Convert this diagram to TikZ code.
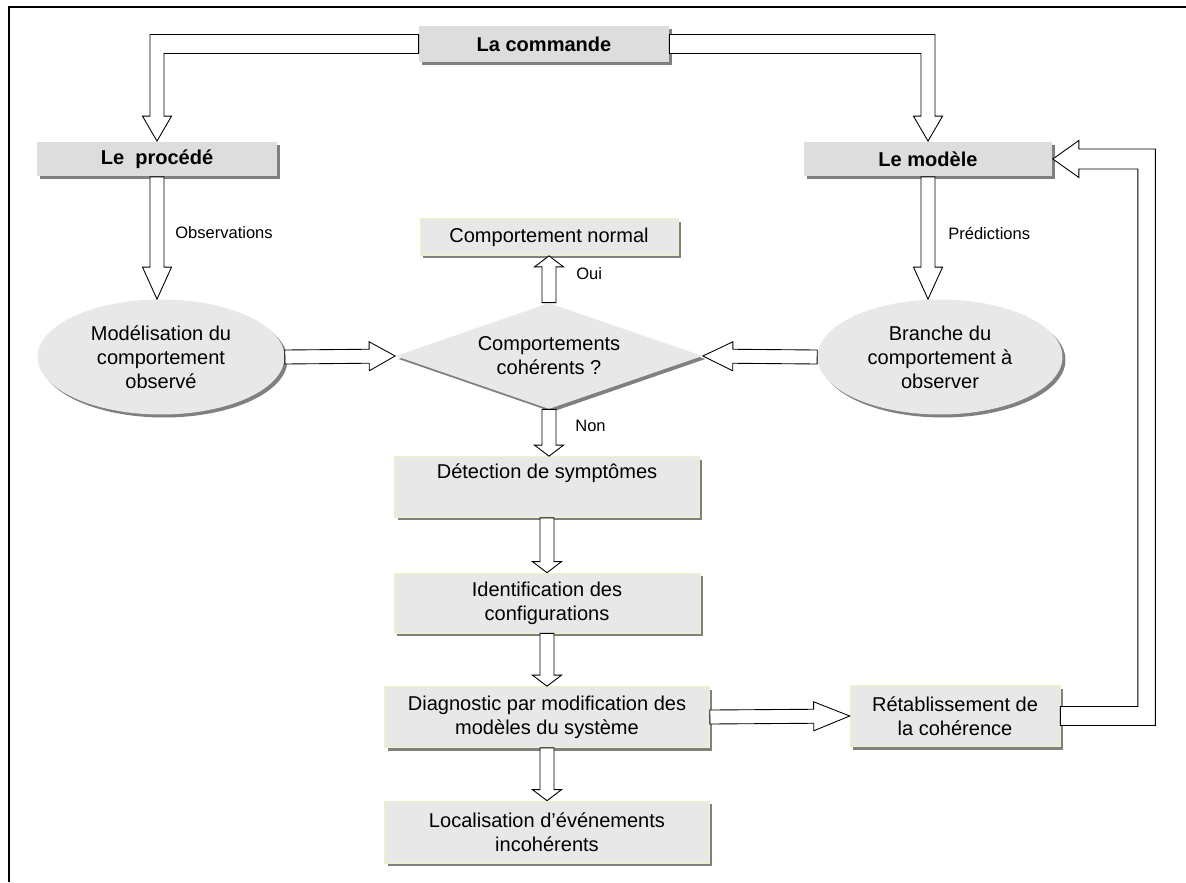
\documentclass[tikz,border=0pt]{standalone}
\usepackage{fontspec}
\setmainfont{Liberation Sans}
\usetikzlibrary{calc,shapes.geometric,shadows}

\definecolor{boxgray}{HTML}{E8E8E8}
\definecolor{headgray}{HTML}{DDDDDD}
\definecolor{paleedge}{HTML}{F2F2C0}
\definecolor{shadegray}{HTML}{808080}

\newcommand{\shaftw}{0.14cm}
\newcommand{\headw}{0.29cm}
% straight block arrow: [head length]{from}{to}
\newcommand{\flowarrow}[3][0.5cm]{%
  \path (#2) coordinate (fa-s) (#3) coordinate (fa-e);
  \path ($(fa-e)!#1!(fa-s)$) coordinate (fa-b);
  \draw[arrowbody] ($(fa-s)!\shaftw!90:(fa-e)$) -- ($(fa-b)!\shaftw!-90:(fa-s)$)
    -- ($(fa-b)!\headw!-90:(fa-s)$) -- (fa-e) -- ($(fa-b)!\headw!90:(fa-s)$)
    -- ($(fa-b)!\shaftw!90:(fa-s)$) -- ($(fa-s)!\shaftw!-90:(fa-e)$) -- cycle;
}

\tikzset{
  shade box/.style={drop shadow={shadow xshift=0.06cm,shadow yshift=-0.06cm,fill=shadegray,opacity=1}},
  headbox/.style={rectangle,fill=headgray,shade box,inner sep=0pt,font=\fontsize{11.4}{13.6}\selectfont\bfseries},
  stepbox/.style={rectangle,fill=boxgray,draw=paleedge,shade box,inner sep=0pt,align=center},
  ovalbox/.style={ellipse,fill=boxgray,shade box,inner sep=0pt,align=center},
  testbox/.style={diamond,aspect=2.9,fill=boxgray,shade box,inner sep=0pt,align=center},
  arrowbody/.style={draw=black,fill=white,line width=0.5pt,line join=miter},
  tag/.style={font=\fontsize{9.4}{11}\selectfont,anchor=west,inner sep=0pt}
}

\begin{document}
\begin{tikzpicture}[x=0.02cm,y=-0.02cm,font=\fontsize{11.4}{13.6}\selectfont]
\useasboundingbox (0,0) rectangle (1186,882);
\draw[line width=0.9pt] (9,882) -- (9,7) -- (1186,7);

\node[headbox,minimum width=5cm,minimum height=0.72cm] (cmd) at (544,44) {La commande};
\node[headbox,minimum width=4.8cm,minimum height=0.7cm] (proc) at (157,159) {Le~ procédé};
\node[headbox,minimum width=4.98cm,minimum height=0.7cm] (modl) at (928,159) {Le modèle};

\node[stepbox,minimum width=5.16cm,minimum height=0.74cm] (normal) at (549,237) {Comportement normal};
\node[ovalbox,minimum width=4.94cm,minimum height=2.3cm] (obs) at (161,357) {Modélisation du\\comportement\\observé};
\node[ovalbox,minimum width=4.9cm,minimum height=2.3cm] (pred) at (940,357) {Branche du\\comportement à\\observer};
\node[testbox,minimum width=6.14cm,minimum height=2.12cm] (coh) at (549,356) {Comportements\\cohérents ?};

\node[stepbox,minimum width=6.1cm,minimum height=1.22cm] (detect) at (547,487) {Détection de symptômes\\\strut};
\node[stepbox,minimum width=6.12cm,minimum height=1.2cm] (ident) at (547,603) {Identification des\\configurations};
\node[stepbox,minimum width=6.5cm,minimum height=1.22cm] (diag) at (547,717) {Diagnostic par modification des\\modèles du système};
\node[stepbox,minimum width=6.5cm,minimum height=1.24cm] (local) at (547,832) {Localisation d’événements\\incohérents};
\node[stepbox,minimum width=4.2cm,minimum height=1.22cm] (retab) at (955,716) {Rétablissement de\\la cohérence};

\node[tag] (obslbl) at (175,233) {Observations};
\node[tag] (predlbl) at (948,233) {Prédictions};
\node[tag] (ouilbl) at (576,274) {Oui};
\node[tag] (nonlbl) at (575,426) {Non};

% bent arrows from the command and back to the model
\draw[arrowbody] ($(cmd.west)+(0,-9.5)$) -| ($(proc.north)+(-7,-25)$) -- ++(-7.5,0)
  -- (proc.north) -- ++(14.5,-25) -- ++(-7.5,0) |- ($(cmd.west)+(0,9.5)$) -- cycle;
\draw[arrowbody] ($(cmd.east)+(0,-9.5)$) -| ($(modl.north)+(7,-25)$) -- ++(7.5,0)
  -- (modl.north) -- ++(-14.5,-25) -- ++(7.5,0) |- ($(cmd.east)+(0,9.5)$) -- cycle;
\draw[arrowbody] ($(retab.east)+(0,-9.5)$) -| ($(modl.east)+(85,10)$) -- ($(modl.east)+(26,10)$)
  -- ++(0,8.5) -- (modl.east) -- ++(26,-18.5) -- ++(0,8.5)
  -| ($(retab.east)+(95,9.5)$) -- ($(retab.east)+(0,9.5)$) -- cycle;

% straight arrows
\flowarrow[0.64cm]{proc.south}{proc.south |- obs.north}
\flowarrow[0.64cm]{modl.south}{modl.south |- pred.north}
\flowarrow[0.52cm]{obs.east}{coh.west}
\flowarrow[0.6cm]{pred.west}{coh.east}
\flowarrow[0.22cm]{coh.north}{normal.south}
\flowarrow[0.22cm]{coh.south}{coh.south |- detect.north}
\flowarrow[0.22cm]{detect.south}{ident.north}
\flowarrow[0.22cm]{ident.south}{diag.north}
\flowarrow[0.22cm]{diag.south}{local.north}
\flowarrow[0.72cm]{diag.east}{retab.west}
\end{tikzpicture}
\end{document}
